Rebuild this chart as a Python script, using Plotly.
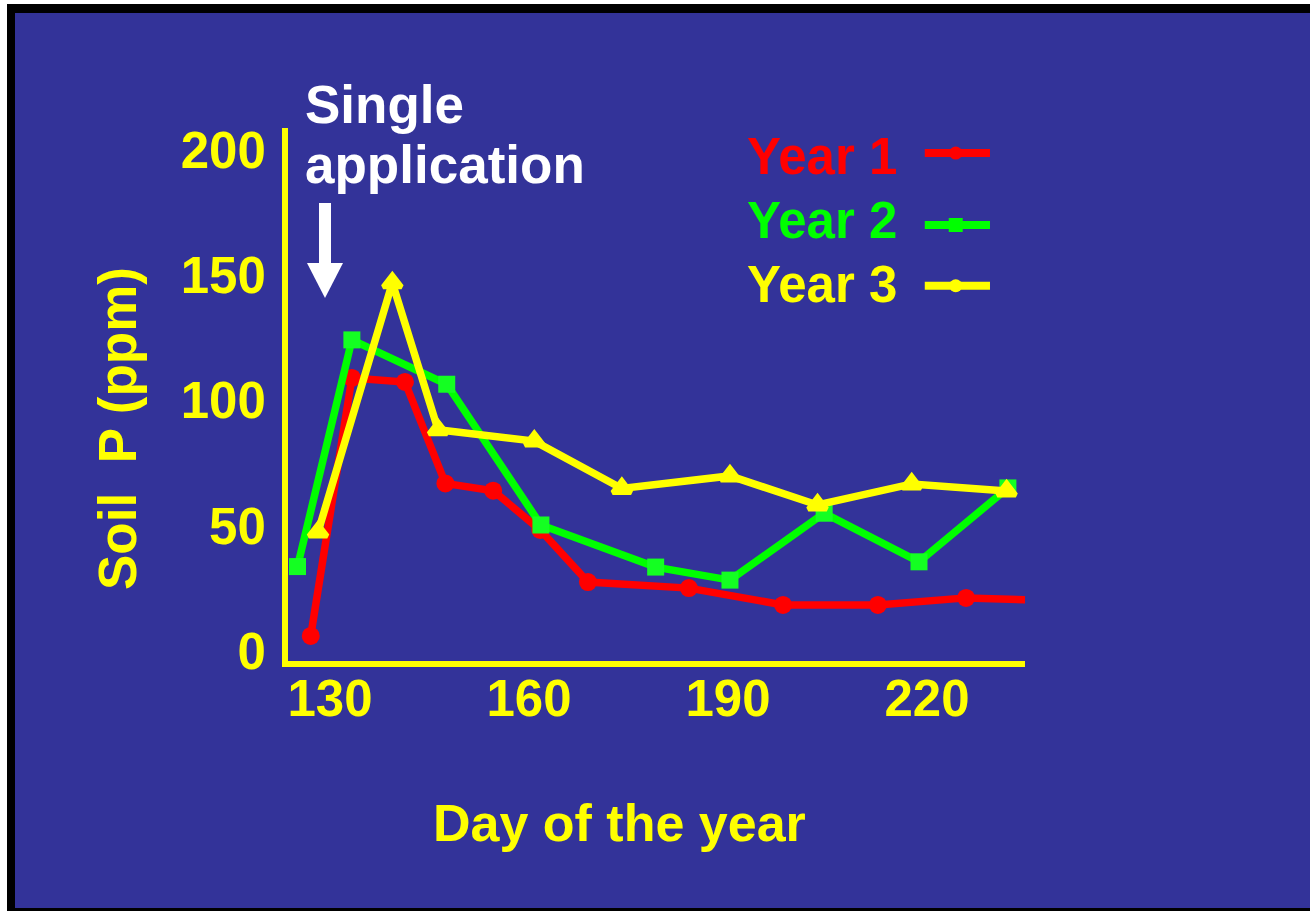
import plotly.graph_objects as go

# ---- data -------------------------------------------------------------
year1_day = [127.1, 133.3, 141.3, 147.4, 154.6, 161.7, 168.9, 184.1, 198.3, 212.6, 225.9, 240.0]
year1_p = [6.0, 109.0, 107.4, 66.9, 64.0, 48.3, 27.5, 25.1, 18.4, 18.4, 21.2, 20.0]

year2_day = [125.1, 133.3, 147.6, 161.8, 179.1, 190.3, 204.5, 218.8, 232.2]
year2_p = [33.7, 124.2, 106.5, 50.3, 33.5, 28.3, 55.0, 35.6, 65.1]

year3_day = [128.2, 139.4, 146.3, 160.8, 174.0, 190.3, 203.5, 217.7, 232.0]
year3_p = [47.5, 147.0, 88.3, 83.8, 64.9, 69.9, 58.3, 66.7, 63.9]

x_ticks = [130, 160, 190, 220]
y_ticks = [0, 50, 100, 150, 200]

series_names = ["Year 1", "Year 2", "Year 3"]

# ---- style ------------------------------------------------------------
W, H = 1310, 911
ML, MR, MT, MB = 288, 285, 128, 250
PW, PH = W - ML - MR, H - MT - MB

BG = "#333399"
YELLOW = "#FFFF00"
RED = "#FF0000"
GREEN = "#00FF00"
FONT = "Liberation Sans, Arial, sans-serif"


def px(x):
    """figure pixel -> paper x"""
    return (x - ML) / PW


def py(y):
    """figure pixel -> paper y"""
    return (H - MB - y) / PH


fig = go.Figure()

fig.add_trace(go.Scatter(
    x=year1_day, y=year1_p, mode="lines+markers", name=series_names[0],
    line=dict(color=RED, width=7.5),
    marker=dict(symbol="circle", size=18, color=RED),
    showlegend=False,
))
fig.add_trace(go.Scatter(
    x=year2_day, y=year2_p, mode="lines+markers", name=series_names[1],
    line=dict(color=GREEN, width=7.5),
    marker=dict(symbol="square", size=17, color="#14FF22"),
    showlegend=False,
))
fig.add_trace(go.Scatter(
    x=year3_day, y=year3_p, mode="lines+markers", name=series_names[2],
    line=dict(color=YELLOW, width=7.5, shape="linear"),
    marker=dict(symbol="triangle-up", size=16, color=YELLOW,
                line=dict(color=YELLOW, width=5)),
    showlegend=False,
))

# ---- custom legend: label on the left, line sample on the right --------
legend_rows = [(series_names[0], RED, "circle", 13, 0.953),
               (series_names[1], GREEN, "square", 14, 0.818),
               (series_names[2], YELLOW, "circle", 13, 0.704)]
for name, col, sym, msz, yrow in legend_rows:
    fig.add_trace(go.Scatter(
        x=[0.864, 0.908, 0.9525], y=[yrow, yrow, yrow],
        xaxis="x2", yaxis="y2", mode="lines",
        line=dict(color=col, width=8), showlegend=False, hoverinfo="skip",
    ))
    fig.add_trace(go.Scatter(
        x=[0.906], y=[yrow], xaxis="x2", yaxis="y2", mode="markers",
        marker=dict(symbol=sym, size=msz, color=col),
        showlegend=False, hoverinfo="skip", cliponaxis=False,
    ))

annotations = []
leg_text_y = [156, 220, 284]
for (name, col, *_), ty in zip(legend_rows, leg_text_y):
    annotations.append(dict(
        text=name, xref="paper", yref="paper", x=px(745), y=py(ty),
        xanchor="left", yanchor="middle", showarrow=False,
        font=dict(family=FONT, size=51, color=col, weight="bold"),
    ))

label_font = dict(family=FONT, size=53, color="white", weight="bold")
annotations.append(dict(
    text="Single", xref="paper", yref="paper",
    x=px(303), y=py(104), xanchor="left", yanchor="middle",
    showarrow=False, font=label_font,
))
annotations.append(dict(
    text="application", xref="paper", yref="paper",
    x=px(303), y=py(165), xanchor="left", yanchor="middle",
    showarrow=False, font=label_font,
))
annotations.append(dict(
    text="Soil  P (ppm)", xref="paper", yref="paper",
    x=px(118), y=py(429), xanchor="center", yanchor="middle",
    textangle=-90, showarrow=False,
    font=dict(family=FONT, size=53, color=YELLOW, weight="bold"),
))
annotations.append(dict(
    text="Day of the year", xref="paper", yref="paper",
    x=px(619), y=py(823), xanchor="center", yanchor="middle",
    showarrow=False,
    font=dict(family=FONT, size=52, color=YELLOW, weight="bold"),
))

shapes = []
# frame
shapes.append(dict(type="rect", xref="paper", yref="paper", layer="above",
                   x0=px(0), x1=px(7), y0=py(0), y1=py(H),
                   fillcolor="white", line=dict(width=0)))
shapes.append(dict(type="rect", xref="paper", yref="paper", layer="above",
                   x0=px(0), x1=px(W), y0=py(0), y1=py(4),
                   fillcolor="white", line=dict(width=0)))
shapes.append(dict(type="rect", xref="paper", yref="paper", layer="above",
                   x0=px(7), x1=px(15), y0=py(4), y1=py(H),
                   fillcolor="black", line=dict(width=0)))
shapes.append(dict(type="rect", xref="paper", yref="paper", layer="above",
                   x0=px(7), x1=px(W), y0=py(4), y1=py(13),
                   fillcolor="black", line=dict(width=0)))
shapes.append(dict(type="rect", xref="paper", yref="paper", layer="above",
                   x0=px(7), x1=px(W), y0=py(908), y1=py(H),
                   fillcolor="black", line=dict(width=0)))
# downward arrow marking the application date
shapes.append(dict(type="rect", xref="paper", yref="paper", layer="above",
                   x0=px(319), x1=px(331), y0=py(203), y1=py(264),
                   fillcolor="white", line=dict(width=0)))
shapes.append(dict(type="path", xref="paper", yref="paper", layer="above",
                   path=f"M {px(307)},{py(263)} L {px(343)},{py(263)} L {px(325)},{py(298)} Z",
                   fillcolor="white", line=dict(width=0)))

axis_font = dict(family=FONT, size=51, color=YELLOW, weight="bold")

fig.update_layout(
    width=W, height=H,
    margin=dict(l=ML, r=MR, t=MT, b=MB, pad=0),
    paper_bgcolor=BG, plot_bgcolor="rgba(0,0,0,0)",
    xaxis=dict(range=[123.67, 234.78], tickvals=x_ticks, ticks="",
               showgrid=False, zeroline=False, showline=True,
               linecolor=YELLOW, linewidth=6, tickfont=axis_font,
               ticklabelstandoff=-12),
    yaxis=dict(range=[-4, 208.8], tickvals=y_ticks, ticks="",
               showgrid=False, zeroline=False, showline=True,
               linecolor=YELLOW, linewidth=6, tickfont=axis_font,
               ticklabelstandoff=6),
    xaxis2=dict(range=[0, 1], overlaying="x", visible=False),
    yaxis2=dict(range=[0, 1], overlaying="y", visible=False),
    annotations=annotations,
    shapes=shapes,
    showlegend=False,
)

fig.write_html("out.html")
